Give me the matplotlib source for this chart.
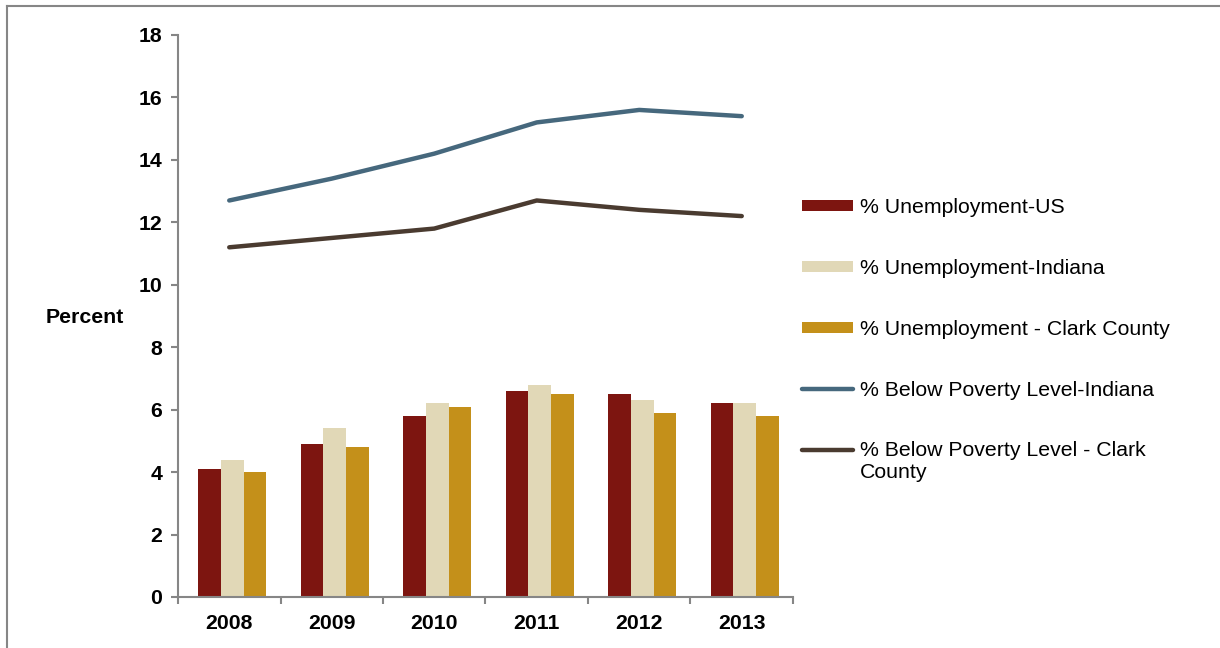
import numpy as np
import matplotlib
matplotlib.use("Agg")
import matplotlib.pyplot as plt
from matplotlib.lines import Line2D
from matplotlib.legend_handler import HandlerLine2D

plt.rcParams["font.family"] = ["Liberation Sans", "DejaVu Sans"]

years = ["2008", "2009", "2010", "2011", "2012", "2013"]
unemp_us = [4.1, 4.9, 5.8, 6.6, 6.5, 6.2]
unemp_indiana = [4.4, 5.4, 6.2, 6.8, 6.3, 6.2]
unemp_clark = [4.0, 4.8, 6.1, 6.5, 5.9, 5.8]
poverty_indiana = [12.7, 13.4, 14.2, 15.2, 15.6, 15.4]
poverty_clark = [11.2, 11.5, 11.8, 12.7, 12.4, 12.2]

bar_series = [
    ("% Unemployment-US", unemp_us, "#7D1510"),
    ("% Unemployment-Indiana", unemp_indiana, "#E1D8B7"),
    ("% Unemployment - Clark County", unemp_clark, "#C4901A"),
]
line_series = [
    ("% Below Poverty Level-Indiana", poverty_indiana, "#46687D"),
    ("% Below Poverty Level - Clark\nCounty", poverty_clark, "#4A3B30"),
]

axis_gray = "#868686"
fs = 15.3


class TopLineHandler(HandlerLine2D):
    """Legend line that sits on the first line of a two-line label."""

    def create_artists(self, legend, orig_handle, xdescent, ydescent,
                       width, height, fontsize, trans):
        artists = super().create_artists(legend, orig_handle, xdescent, ydescent,
                                         width, height, fontsize, trans)
        for a in artists:
            a.set_ydata(np.asarray(a.get_ydata()) + 0.6 * fontsize)
        return artists


fig = plt.figure(figsize=(12.2, 6.48), dpi=100)
ax = fig.add_axes([178 / 1220, 1 - 597 / 648, 615 / 1220, 562 / 648])

x = np.arange(len(years))
width = 0.222
handles = []
for i, (label, vals, color) in enumerate(bar_series):
    b = ax.bar(x + (i - 1) * width + 0.03, vals, width, color=color, label=label, zorder=2)
    handles.append(b)

for label, vals, color in line_series:
    (ln,) = ax.plot(x, vals, color=color, linewidth=3.2, solid_capstyle="round",
                    solid_joinstyle="round", label=label, zorder=3)
    handles.append(ln)

ax.set_xlim(-0.5, len(years) - 0.5)
ax.set_ylim(0, 18)
ax.set_yticks(range(0, 19, 2))

ax.set_xticks(x)
ax.set_xticklabels(years)
ax.set_xticks(np.arange(-0.5, len(years)), minor=True)
ax.tick_params(axis="x", which="major", length=0, pad=12)
ax.tick_params(axis="x", which="minor", length=5, width=1.5, color=axis_gray, direction="out")
ax.tick_params(axis="y", length=5, width=1.5, color=axis_gray, direction="out", pad=6.5)
for lab in ax.get_xticklabels() + ax.get_yticklabels():
    lab.set_fontsize(fs)
    lab.set_fontweight("bold")

for side in ["top", "right"]:
    ax.spines[side].set_visible(False)
for side in ["left", "bottom"]:
    ax.spines[side].set_color(axis_gray)
    ax.spines[side].set_linewidth(1.5)

ax.set_ylabel("Percent", rotation=0, fontsize=fs, fontweight="bold",
              ha="center", va="center")
ax.yaxis.set_label_coords(-0.151, 0.497)

leg = ax.legend(handles=handles, loc="upper left",
                bbox_to_anchor=(802 / 1220, 1 - 198 / 648),
                bbox_transform=fig.transFigure, frameon=False, fontsize=fs,
                borderpad=0, borderaxespad=0, handlelength=2.4, handleheight=0.42,
                handletextpad=0.33, labelspacing=1.97,
                handler_map={handles[-1]: TopLineHandler()})
leg.get_texts()[-1].set_linespacing(1.2)

# outer border of the chart area
fig.add_artist(Line2D([7 / 1220, 7 / 1220], [0, 1 - 6 / 648], color=axis_gray,
                      linewidth=1.5, transform=fig.transFigure))
fig.add_artist(Line2D([7 / 1220, 1], [1 - 6 / 648, 1 - 6 / 648], color=axis_gray,
                      linewidth=1.5, transform=fig.transFigure))

fig.savefig("out.png", dpi=100)
